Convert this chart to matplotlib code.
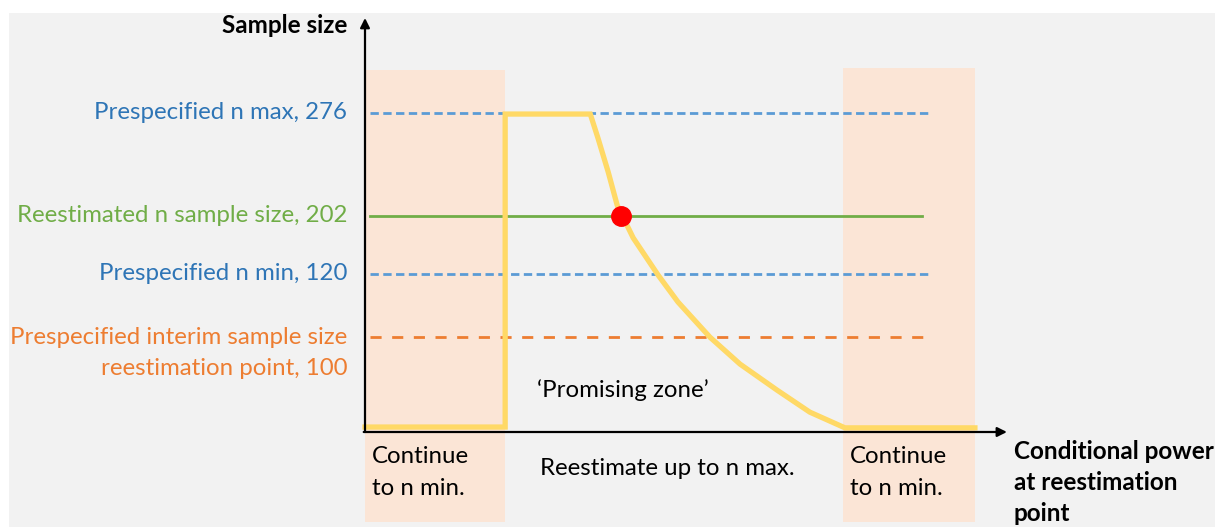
import matplotlib.pyplot as plt
from matplotlib.patches import Rectangle

# schematic levels (height on the sample-size axis, 0..1 of the arrow)
level_labels = ["Prespecified n max, 276", "Reestimated n sample size, 202",
                "Prespecified n min, 120",
                "Prespecified interim sample size\nreestimation point, 100"]
level_values = [0.771, 0.522, 0.382, 0.229]
level_colors = ["#5b9bd5", "#70ad47", "#5b9bd5", "#ed7d31"]
label_colors = ["#2e75b6", "#70ad47", "#2e75b6", "#ed7d31"]
level_styles = [(0, (3, 1.6)), "-", (0, (3, 1.6)), (0, (4, 3.8))]
level_ends = [0.880, 0.870, 0.880, 0.883]

# zones on the conditional power axis
zone_left = [0.0, 0.747]
zone_right = [0.219, 0.953]
zone_top = [0.874, 0.879]

# sample size rule (yellow curve)
cp = [0.0, 0.219, 0.219, 0.352, 0.364, 0.380, 0.394, 0.419, 0.458, 0.489,
      0.539, 0.586, 0.644, 0.695, 0.750, 0.953]
n_rule = [0.012, 0.012, 0.768, 0.768, 0.710, 0.628, 0.548, 0.469, 0.379, 0.314,
          0.229, 0.164, 0.101, 0.048, 0.010, 0.010]

point_cp, point_n = 0.40, 0.522

plt.rcParams['font.family'] = ['Lato', 'DejaVu Sans']
FS = 17.3

fig = plt.figure(figsize=(12.15, 5.27), dpi=100)
fig.patches.append(Rectangle((9 / 1215, 0), 1, 1 - 13 / 527, transform=fig.transFigure,
                             facecolor="#f2f2f2", edgecolor="none", zorder=-10))
ax = fig.add_axes([0, 0, 1, 1])
ax.set_xlim(-365 / 640, 850 / 640)
ax.set_ylim(-95 / 414, 432 / 414)
ax.axis("off")

# shaded "continue to n min" zones
for l, r, t in zip(zone_left, zone_right, zone_top):
    ax.add_patch(Rectangle((l, -0.217), r - l, t + 0.217, facecolor="#fbe5d6",
                           edgecolor="none", zorder=1))

# horizontal reference levels
for v, c, ls, end, lab, lc in zip(level_values, level_colors, level_styles,
                                  level_ends, level_labels, label_colors):
    ax.plot([0.008, end], [v, v], color=c, ls=ls, lw=2, zorder=2)
    for i, txt in enumerate(lab.split("\n")):
        ax.text(-0.028, v - i * 0.075, txt, color=lc, fontsize=FS,
                ha="right", va="center")

ax.plot(cp, n_rule, color="#ffd966", lw=3.8, zorder=3, solid_joinstyle="miter")
ax.plot(point_cp, point_n, "o", color="#ff0000", ms=14, zorder=4)

# axes arrows
ax.annotate("", xy=(0, 1.0), xytext=(0, 0),
            arrowprops=dict(arrowstyle="-|>", color="black", lw=1.6, mutation_scale=14,
                            shrinkA=0, shrinkB=0), zorder=5)
ax.annotate("", xy=(1.003, 0), xytext=(-0.002, 0),
            arrowprops=dict(arrowstyle="-|>", color="black", lw=1.6, mutation_scale=14,
                            shrinkA=0, shrinkB=0), zorder=5)

ax.text(-0.028, 0.983, "Sample size", fontsize=17.5, fontweight="bold", ha="right", va="center")
ax.text(0.268, 0.101, "\u2018Promising zone\u2019", fontsize=FS, ha="left", va="center")
ax.text(0.273, -0.087, "Reestimate up to n max.", fontsize=FS, ha="left", va="center")
for x0 in [0.011, 0.758]:
    ax.text(x0, -0.060, "Continue", fontsize=FS, ha="left", va="center")
    ax.text(x0, -0.137, "to n min.", fontsize=FS, ha="left", va="center")
for i, txt in enumerate(["Conditional power", "at reestimation", "point"]):
    ax.text(1.014, -0.048 - i * 0.075, txt, fontsize=17.5, fontweight="bold",
            ha="left", va="center")

fig.savefig("out.png", dpi=100)
